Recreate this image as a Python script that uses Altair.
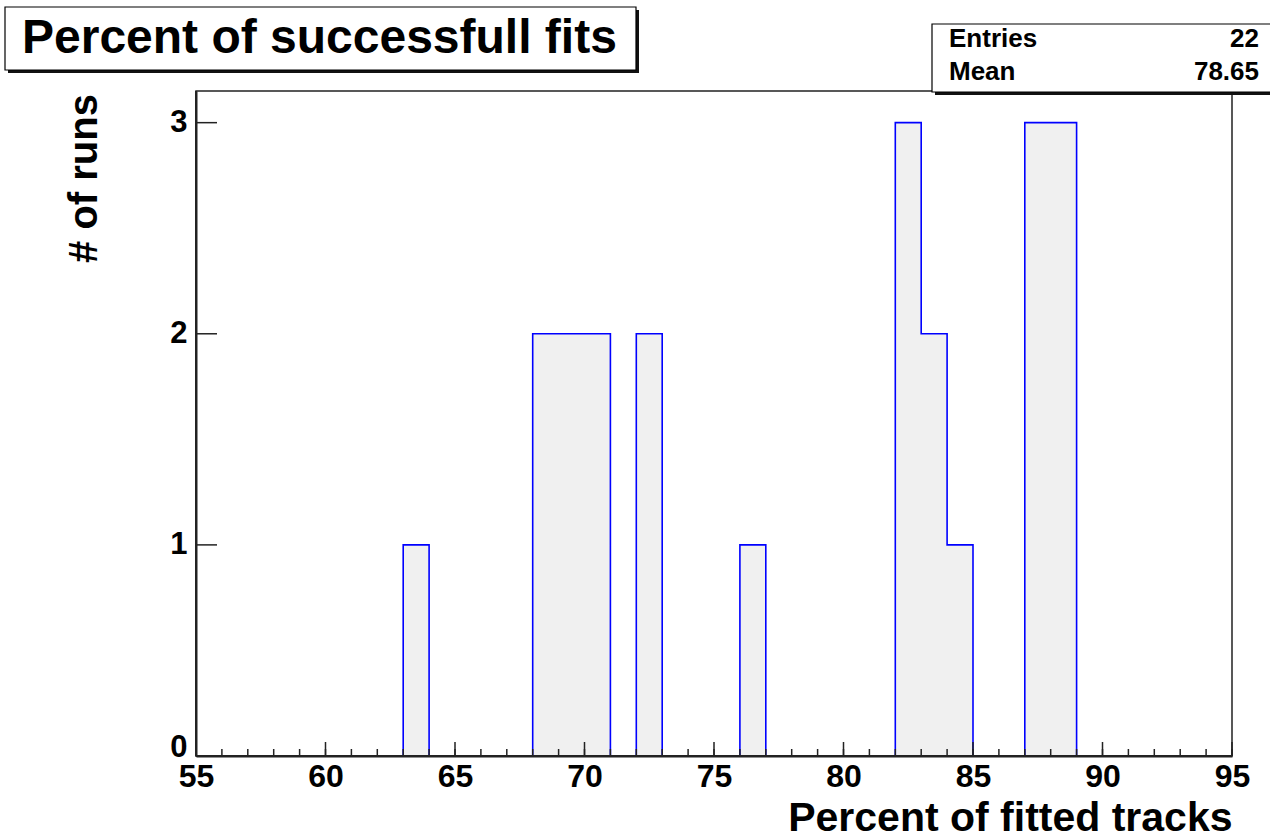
import altair as alt
import pandas as pd

# Histogram contents: one-unit bins from 55 to 95
bin_low = list(range(55, 95))
counts = [0, 0, 0, 0, 0, 0, 0, 0,   # 55-62
          1,                        # 63
          0, 0, 0, 0,               # 64-67
          2, 2, 2,                  # 68-70
          0,                        # 71
          2,                        # 72
          0, 0, 0,                  # 73-75
          1,                        # 76
          0, 0, 0, 0, 0,            # 77-81
          3, 2, 1,                  # 82-84
          0, 0,                     # 85-86
          3, 3,                     # 87-88
          0, 0, 0, 0, 0, 0]         # 89-94

x_major_ticks = [55, 60, 65, 70, 75, 80, 85, 90, 95]
x_minor_ticks = list(range(55, 96))
y_major_ticks = [0, 1, 2, 3]

title_text = "Percent of successfull fits"
x_title = "Percent of fitted tracks"
y_title = "# of runs"
stats_labels = ["Entries", "Mean"]
mean_text = "78.65"
entries_text = str(sum(counts))

W, H = 1036, 665
FONT = "Liberation Sans"
FRAME = "#222222"

hist = pd.DataFrame({"edge": bin_low + [95], "count": counts + [0]})
x_scale = alt.Scale(domain=[55, 95], nice=False, zero=False)
y_scale = alt.Scale(domain=[0, 3.15], nice=False, zero=True)

x_axis = alt.Axis(values=x_major_ticks, format="d", title=x_title,
                  titleX=W, titleY=74, zindex=2)
# the lowest y label sits a little above its tick, clear of the x labels
y_axis = alt.Axis(values=y_major_ticks, format="d", title=y_title,
                  titleX=-112, titleY=87, zindex=2,
                  labelOffset=alt.condition("datum.value == 0",
                                            alt.value(-9), alt.value(0)))

base = alt.Chart(hist)
fill = base.mark_area(interpolate="step-after", color="#f0f0f0").encode(
    x=alt.X("edge:Q", scale=x_scale, axis=x_axis),
    y=alt.Y("count:Q", scale=y_scale, axis=y_axis),
)
outline = base.mark_line(interpolate="step-after", color="#0000ff",
                         strokeWidth=1.6).encode(
    x=alt.X("edge:Q", scale=x_scale, axis=x_axis),
    y=alt.Y("count:Q", scale=y_scale, axis=y_axis),
)

# Inward-pointing tick marks
major_x = alt.Chart(pd.DataFrame({"edge": x_major_ticks})).mark_rule(
    color=FRAME, strokeWidth=1.5).encode(
    x=alt.X("edge:Q", scale=x_scale, axis=x_axis),
    y=alt.value(H), y2=alt.value(H - 14))
minor_x = alt.Chart(pd.DataFrame({"edge": x_minor_ticks})).mark_rule(
    color=FRAME, strokeWidth=1.5).encode(
    x=alt.X("edge:Q", scale=x_scale, axis=x_axis),
    y=alt.value(H), y2=alt.value(H - 7))
major_y = alt.Chart(pd.DataFrame({"count": y_major_ticks})).mark_rule(
    color=FRAME, strokeWidth=1.5).encode(
    y=alt.Y("count:Q", scale=y_scale, axis=y_axis),
    x=alt.value(0), x2=alt.value(21))

one = pd.DataFrame({"k": [0]})

# Axis lines drawn over the histogram outline
frame_bottom = alt.Chart(one).mark_rule(color=FRAME, strokeWidth=2).encode(
    x=alt.value(0), x2=alt.value(W), y=alt.value(H))
frame_left = alt.Chart(one).mark_rule(color=FRAME, strokeWidth=2).encode(
    x=alt.value(0), y=alt.value(0), y2=alt.value(H))


def box(x0, x1, y0, y1):
    shadow = alt.Chart(one).mark_rect(color="#111111").encode(
        x=alt.value(x0 + 3), x2=alt.value(x1 + 3),
        y=alt.value(y0 + 3), y2=alt.value(y1 + 3))
    frame = alt.Chart(one).mark_rect(fill="white", stroke="black",
                                     strokeWidth=1.2).encode(
        x=alt.value(x0), x2=alt.value(x1), y=alt.value(y0), y2=alt.value(y1))
    return shadow + frame


def label(text, x, y, size, align="left"):
    return alt.Chart(one).mark_text(
        align=align, baseline="alphabetic", font=FONT, fontSize=size,
        fontWeight="bold", color="black").encode(
        x=alt.value(x), y=alt.value(y), text=alt.value(text))


title_box = box(-191, 440, -84, -21) + label(title_text, -174, -38, 48)
stats_box = (box(736, 1080, -67, 1)
             + label(stats_labels[0], 753, -44, 26)
             + label(entries_text, 1063, -44, 26, "right")
             + label(stats_labels[1], 753, -11, 26)
             + label(mean_text, 1063, -11, 26, "right"))

chart = alt.layer(
    fill, outline, minor_x, major_x, major_y, frame_bottom, frame_left,
    title_box, stats_box
).properties(
    width=W, height=H,
    padding={"left": 196, "top": 91, "right": 38, "bottom": 84},
    autosize=alt.AutoSizeParams(type="none"),
    background="white",
).configure_view(
    stroke=FRAME, strokeWidth=1.5
).configure_axis(
    ticks=False, tickSize=0, grid=False, domainColor=FRAME, domainWidth=2,
    labelFont=FONT, labelFontWeight="bold", labelColor="black",
    labelFlush=False, labelOverlap=False,
    titleFont=FONT, titleFontWeight="bold", titleColor="black",
).configure_axisX(
    labelFontSize=32, labelPadding=5,
    titleFontSize=41, titleAlign="right", titleAnchor="end",
    titleBaseline="alphabetic",
).configure_axisY(
    labelFontSize=31, labelPadding=9,
    titleFontSize=40, titleAngle=270, titleAlign="center",
    titleBaseline="middle",
)

chart.save("out.html", embed_options={"renderer": "svg", "actions": False})
